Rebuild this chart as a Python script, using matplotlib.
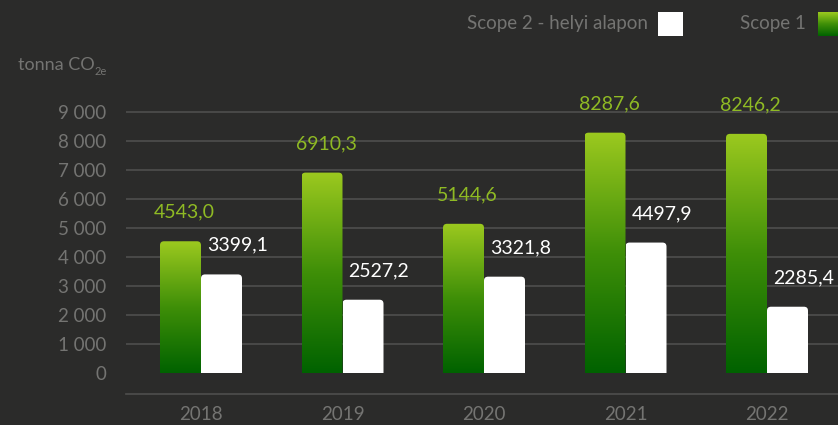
import numpy as np
import matplotlib
matplotlib.use("Agg")
import matplotlib.pyplot as plt
from matplotlib.patches import FancyBboxPatch, Rectangle
from matplotlib.colors import LinearSegmentedColormap
from matplotlib.ticker import FuncFormatter

years = ["2018", "2019", "2020", "2021", "2022"]
scope1 = [4543.0, 6910.3, 5144.6, 8287.6, 8246.2]
scope2 = [3399.1, 2527.2, 3321.8, 4497.9, 2285.4]
yticks = [0, 1000, 2000, 3000, 4000, 5000, 6000, 7000, 8000, 9000]
label_s1 = "Scope 1"
label_s2 = "Scope 2 - helyi alapon"

BG = "#2b2b2a"
GRID = "#4f4f4d"
TXT = "#747472"
GREEN_TXT = "#8fba24"
G_TOP = "#9cc91f"
G_BOT = "#006200"
FW = "normal"

plt.rcParams['font.family'] = ['Lato', 'DejaVu Sans']

fig = plt.figure(figsize=(8.38, 4.25), dpi=100)
fig.patch.set_facecolor(BG)
W, H = 838, 425
ax_l, ax_r, ax_b, ax_t = 126, 838, 394, 90
ax = fig.add_axes([ax_l / W, (H - ax_b) / H, (ax_r - ax_l) / W, (ax_b - ax_t) / H])
ax.set_facecolor(BG)

px_per_unit_x = 141.5
x0_px = 201
xlim = ((ax_l - x0_px) / px_per_unit_x, (ax_r - x0_px) / px_per_unit_x)
px_per_1000 = 29.0
y0_px = 373
ylim = (-(ax_b - y0_px) / px_per_1000 * 1000, (y0_px - ax_t) / px_per_1000 * 1000)
ax.set_xlim(*xlim)
ax.set_ylim(*ylim)

x = np.arange(len(years))
bw = 41 / px_per_unit_x

bars1 = ax.bar(x - bw / 2, scope1, bw, color="none", linewidth=0, label=label_s1)
bars2 = ax.bar(x + bw / 2, scope2, bw, color="none", linewidth=0, label=label_s2)

cmap_g = LinearSegmentedColormap.from_list("g", [G_BOT, "#3f8f08", G_TOP])
cmap_w = LinearSegmentedColormap.from_list("w", ["#ffffff", "#ffffff"])
grad = np.linspace(0, 1, 256).reshape(-1, 1)

r_x = 4 / px_per_unit_x
r_aspect = (1000 / px_per_1000) * px_per_unit_x

def draw_bar(rect, cmap):
    bx, by = rect.get_x(), rect.get_y()
    w, h = rect.get_width(), rect.get_height()
    clip = FancyBboxPatch((bx, by - 400), w, h + 400,
                          boxstyle=f"round,pad=0,rounding_size={r_x}",
                          mutation_aspect=r_aspect, transform=ax.transData,
                          facecolor="none", edgecolor="none")
    ax.add_patch(clip)
    im = ax.imshow(grad, cmap=cmap, aspect="auto", origin="lower",
                   extent=[bx, bx + w, by, by + h], zorder=3)
    im.set_clip_path(clip)

for r in bars1:
    draw_bar(r, cmap_g)
for r in bars2:
    draw_bar(r, cmap_w)
ax.set_xlim(*xlim)
ax.set_ylim(*ylim)

for yt in yticks[1:]:
    ax.axhline(yt, color=GRID, lw=1.2, zorder=1)

for s in ["top", "right", "left"]:
    ax.spines[s].set_visible(False)
ax.spines["bottom"].set_color(GRID)
ax.spines["bottom"].set_linewidth(1.2)

ax.set_yticks(yticks)
ax.yaxis.set_major_formatter(FuncFormatter(lambda v, p: f"{int(v):,}".replace(",", " ")))
ax.set_xticks(x)
ax.set_xticklabels(years)
ax.tick_params(axis="y", length=0, pad=14, labelsize=13.5, labelcolor=TXT)
ax.tick_params(axis="x", length=0, pad=9, labelsize=13.5, labelcolor=TXT)

for r, v in zip(bars1, scope1):
    ax.annotate(f"{v:.1f}".replace(".", ","), (r.get_x() + r.get_width() / 2, v),
                xytext=(3, 21), textcoords="offset points", ha="center", va="center",
                color=GREEN_TXT, fontsize=14, fontweight=FW)
for r, v in zip(bars2, scope2):
    ax.annotate(f"{v:.1f}".replace(".", ","), (r.get_x() + r.get_width() / 2, v),
                xytext=(11.5, 21), textcoords="offset points", ha="center", va="center",
                color="white", fontsize=14, fontweight=FW)

fig.text(18 / W, 1 - 70 / H, "tonna CO", color=TXT, fontsize=13, ha="left", va="baseline")
fig.text(95 / W, 1 - 75 / H, "2e", color=TXT, fontsize=8, ha="left", va="baseline")

fig.text(648 / W, 1 - 24 / H, label_s2, color=TXT, fontsize=13.5, ha="right", va="center")
fig.patches.append(Rectangle((658 / W, 1 - 36 / H), 25 / W, 24 / H, transform=fig.transFigure,
                             facecolor="white", edgecolor="none"))
fig.text(806 / W, 1 - 24 / H, label_s1, color=TXT, fontsize=13.5, ha="right", va="center")
lg_ax = fig.add_axes([818 / W, 1 - 36 / H, 25 / W, 24 / H])
lg_ax.imshow(grad, cmap=cmap_g, aspect="auto", origin="lower", extent=[0, 1, 0, 1])
lg_ax.set_axis_off()

fig.savefig("out.png", dpi=100, facecolor=BG)
